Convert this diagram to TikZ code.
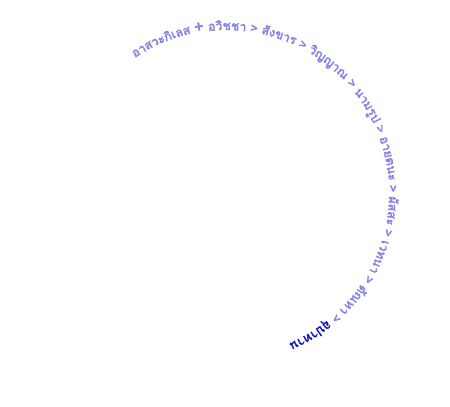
\documentclass[tikz,border=0pt]{standalone}
\usepackage{fontspec}
\newfontfamily\thaifont[Script=Thai,AutoFakeBold=3]{Loma}
\usetikzlibrary{decorations.text}
\definecolor{lightblue}{RGB}{132,132,228}
\definecolor{darkblue}{RGB}{20,20,190}
\newcommand\thaifmt{\thaifont\bfseries\fontsize{12.2}{14}\selectfont}
\begin{document}
\begin{tikzpicture}[x=1pt,y=1pt]
\useasboundingbox (0,0) rectangle (450,407);
\coordinate (c) at (226,214);
\path[postaction={decorate},
  decoration={text along path, text color=lightblue,
    text={|\thaifmt|อาสวะ{กิ}เลส {\fontsize{16}{16}\selectfont+} อ{วิ}ชชา > {สั}งขาร > {วิ}ญญาณ > นาม{รู}ป > อายตนะ > {ผั}สสะ > เวทนา > {ตั}ณหา > |\thaifmt\color{darkblue}|{อุ}ปาทาน}}]
  (c) ++(124:163) arc[start angle=124, end angle=-85, radius=163];
\end{tikzpicture}
\end{document}
